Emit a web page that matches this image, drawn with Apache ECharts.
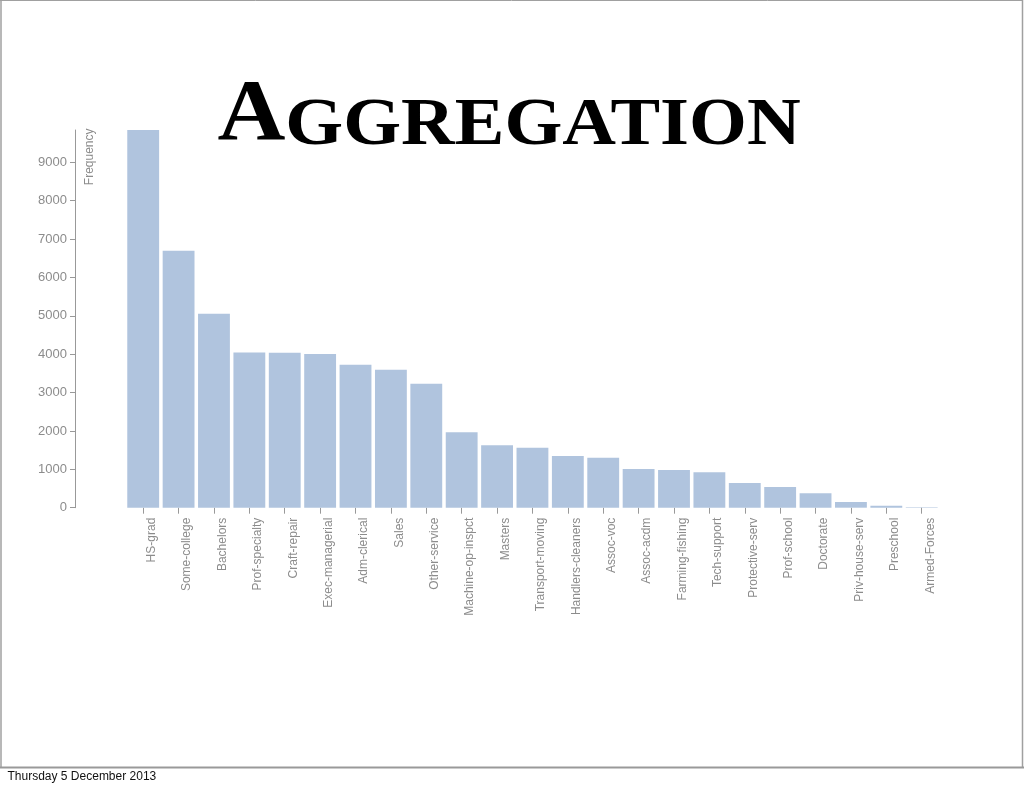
<!DOCTYPE html>
<html>
<head>
<meta charset="utf-8">
<script src="https://cdn.jsdelivr.net/npm/echarts@6/dist/echarts.min.js"></script>
<style>
html,body{margin:0;padding:0;background:#fff;}
#chart{width:1024px;height:788px;}
</style>
</head>
<body>
<div id="chart"></div>
<script>
var categories = ["HS-grad","Some-college","Bachelors","Prof-specialty","Craft-repair","Exec-managerial","Adm-clerical","Sales","Other-service","Machine-op-inspct","Masters","Transport-moving","Handlers-cleaners","Assoc-voc","Assoc-acdm","Farming-fishing","Tech-support","Protective-serv","Prof-school","Doctorate","Priv-house-serv","Preschool","Armed-Forces"];
var frequency = [9840,6697,5053,4044,4036,4002,3723,3592,3227,1967,1628,1565,1349,1304,1010,984,923,644,540,375,149,52,9];
var titleText = "AGGREGATION";
var yAxisName = "Frequency";
var dateText = "Thursday 5 December 2013";

var chart = echarts.init(document.getElementById('chart'));
var sans = "'Liberation Sans', Arial, Helvetica, sans-serif";
var serif = "'Liberation Serif', 'Times New Roman', serif";
var grey = '#8c8c8c';
var option = {
  backgroundColor: '#fff',
  animation: false,
  grid: {left: 125.5, right: 84.6, top: 130, bottom: 280.3, containLabel: false},
  xAxis: {
    type: 'category',
    data: categories,
    axisLine: {show: false},
    axisTick: {show: true, alignWithLabel: true, length: 6, lineStyle: {color: '#999', width: 1}},
    axisLabel: {interval: 0, rotate: 90, margin: 10, color: grey, fontSize: 12, fontFamily: sans, verticalAlign: 'top', lineHeight: 17},
    splitLine: {show: false}
  },
  yAxis: {
    type: 'value',
    min: 0,
    max: frequency[0],
    interval: 1000,
    offset: 50.5,
    axisLine: {show: true, lineStyle: {color: '#999', width: 1}},
    axisTick: {show: true, length: 5, lineStyle: {color: '#999', width: 1}},
    axisLabel: {showMaxLabel: false, margin: 8, color: grey, fontSize: 13, fontFamily: sans,
      formatter: function (v) { return String(v); }},
    splitLine: {show: false}
  },
  series: [{
    type: 'bar',
    data: frequency,
    barCategoryGap: '10%',
    itemStyle: {color: '#b0c4de'}
  }],
  graphic: [
    {type: 'line', shape: {x1: 0, y1: 0.5, x2: 1023, y2: 0.5}, style: {stroke: '#a0a0a0', lineWidth: 1}},
    {type: 'line', shape: {x1: 1, y1: 0, x2: 1, y2: 768}, style: {stroke: '#a0a0a0', lineWidth: 1.5}},
    {type: 'line', shape: {x1: 1022.5, y1: 0, x2: 1022.5, y2: 768}, style: {stroke: '#a0a0a0', lineWidth: 1.5}},
    {type: 'line', shape: {x1: 0, y1: 767.5, x2: 1024, y2: 767.5}, style: {stroke: '#999', lineWidth: 2}},
    {
      type: 'text', x: 509, y: 160, scaleX: 1.094, z: 10,
      style: {
        text: '{a|' + titleText.charAt(0) + '}{b|' + titleText.slice(1) + '}',
        align: 'center', verticalAlign: 'bottom', fill: '#000',
        rich: {
          a: {fontFamily: serif, fontWeight: 'bold', fontSize: 86, lineHeight: 86, verticalAlign: 'bottom', fill: '#000', color: '#000'},
          b: {fontFamily: serif, fontWeight: 'bold', fontSize: 68, lineHeight: 91, verticalAlign: 'bottom', fill: '#000', color: '#000'}
        }
      }
    },
    {
      type: 'text', x: 84, y: 128.5, rotation: Math.PI / 2,
      style: {text: yAxisName, align: 'right', verticalAlign: 'top', fill: grey, font: "12px 'Liberation Sans', Arial, sans-serif"}
    },
    {
      type: 'text', x: 7.5, y: 777,
      style: {text: dateText, align: 'left', verticalAlign: 'middle', fill: '#111', font: "12px 'Liberation Sans', Arial, sans-serif"}
    }
  ]
};
chart.setOption(option);
</script>
</body>
</html>
